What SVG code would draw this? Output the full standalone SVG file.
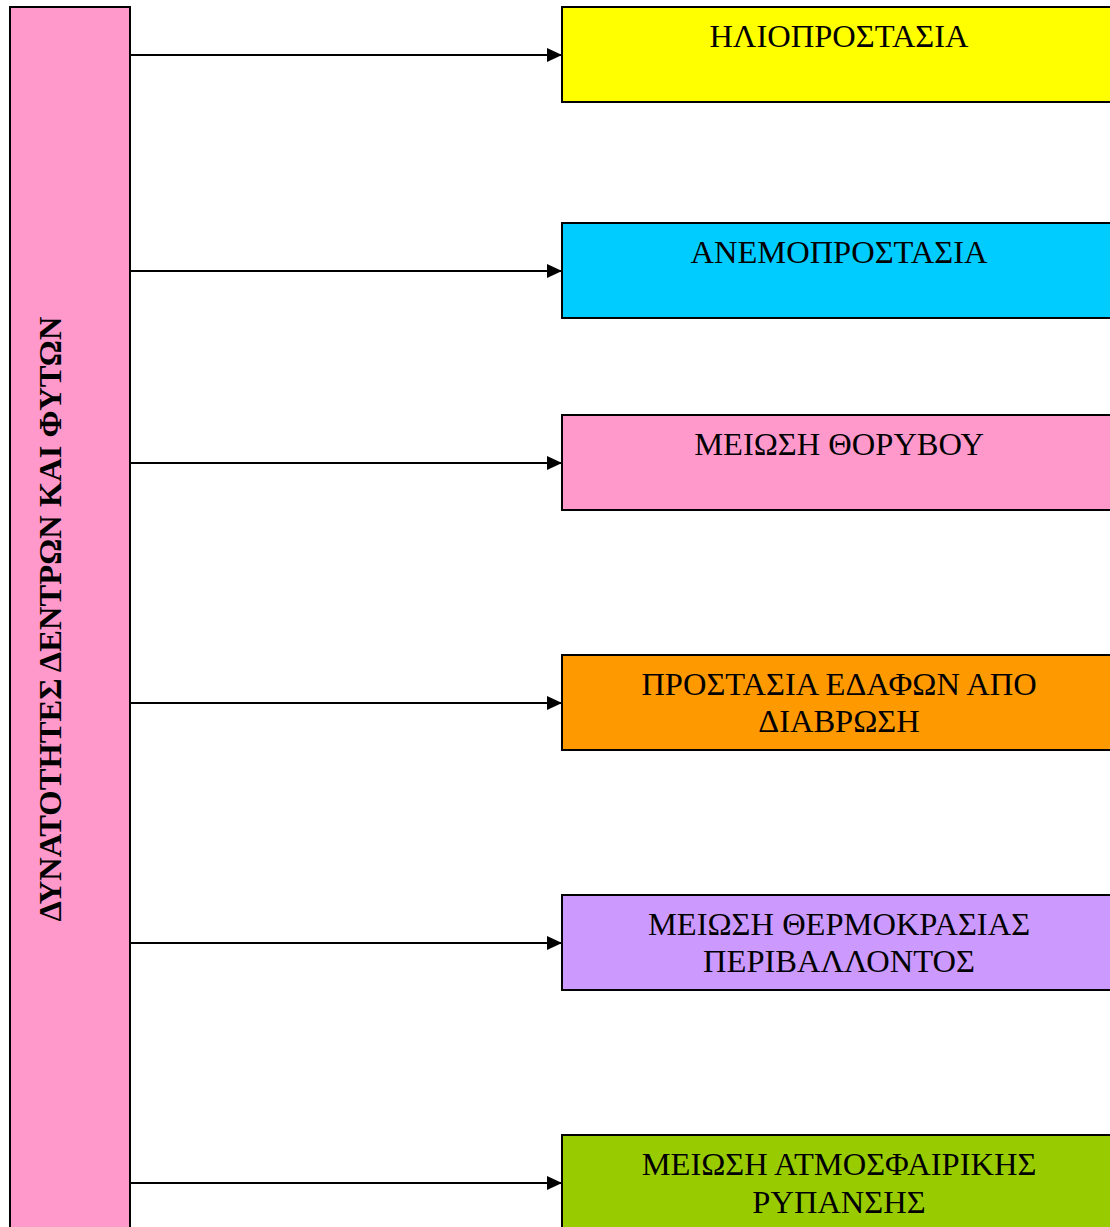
<svg xmlns="http://www.w3.org/2000/svg" width="1110" height="1227" viewBox="0 0 1110 1227">
  <defs>
    <marker id="arrow" markerWidth="15" markerHeight="14" refX="15" refY="7" orient="auto" markerUnits="userSpaceOnUse">
      <path d="M0,0 L15,7 L0,14 Z" fill="#000"/>
    </marker>
  </defs>
  <style>
    .box { stroke: #000; stroke-width: 2; }
    .label { font-family: "Liberation Serif", "Times New Roman", serif; font-size: 32.5px; fill: #000; text-anchor: middle; }
    .title { font-family: "Liberation Serif", "Times New Roman", serif; font-size: 32.6px; font-weight: bold; fill: #000; text-anchor: middle; }
    .link { stroke: #000; stroke-width: 2; fill: none; marker-end: url(#arrow); }
  </style>
  <rect width="1110" height="1227" fill="#fff"/>

  <!-- vertical title bar -->
  <g id="title">
    <rect class="box" x="10" y="7" width="120" height="1240" fill="#FF99CC"/>
    <text class="title" transform="translate(61,619) rotate(-90)">ΔΥΝΑΤΟΤΗΤΕΣ ΔΕΝΤΡΩΝ ΚΑΙ ΦΥΤΩΝ</text>
  </g>

  <!-- connectors -->
  <g id="connectors">
    <line class="link" x1="130" y1="55" x2="562" y2="55"/>
    <line class="link" x1="130" y1="271" x2="562" y2="271"/>
    <line class="link" x1="130" y1="463" x2="562" y2="463"/>
    <line class="link" x1="130" y1="703" x2="562" y2="703"/>
    <line class="link" x1="130" y1="943" x2="562" y2="943"/>
    <line class="link" x1="130" y1="1183" x2="562" y2="1183"/>
  </g>

  <!-- benefit boxes -->
  <g id="sun">
    <rect class="box" x="562" y="7" width="560" height="95" fill="#FFFF00"/>
    <text class="label" x="839" y="47">ΗΛΙΟΠΡΟΣΤΑΣΙΑ</text>
  </g>
  <g id="wind">
    <rect class="box" x="562" y="223" width="560" height="95" fill="#00CCFF"/>
    <text class="label" x="839" y="263">ΑΝΕΜΟΠΡΟΣΤΑΣΙΑ</text>
  </g>
  <g id="noise">
    <rect class="box" x="562" y="415" width="560" height="95" fill="#FF99CC"/>
    <text class="label" x="839" y="455">ΜΕΙΩΣΗ ΘΟΡΥΒΟΥ</text>
  </g>
  <g id="erosion">
    <rect class="box" x="562" y="655" width="560" height="95" fill="#FF9900"/>
    <text class="label" x="839" y="695">ΠΡΟΣΤΑΣΙΑ ΕΔΑΦΩΝ ΑΠΟ</text>
    <text class="label" x="839" y="732">ΔΙΑΒΡΩΣΗ</text>
  </g>
  <g id="temperature">
    <rect class="box" x="562" y="895" width="560" height="95" fill="#CC99FF"/>
    <text class="label" x="839" y="935">ΜΕΙΩΣΗ ΘΕΡΜΟΚΡΑΣΙΑΣ</text>
    <text class="label" x="839" y="972">ΠΕΡΙΒΑΛΛΟΝΤΟΣ</text>
  </g>
  <g id="pollution">
    <rect class="box" x="562" y="1135" width="560" height="120" fill="#99CC00"/>
    <text class="label" x="839" y="1175">ΜΕΙΩΣΗ ΑΤΜΟΣΦΑΙΡΙΚΗΣ</text>
    <text class="label" x="839" y="1213">ΡΥΠΑΝΣΗΣ</text>
  </g>
</svg>
